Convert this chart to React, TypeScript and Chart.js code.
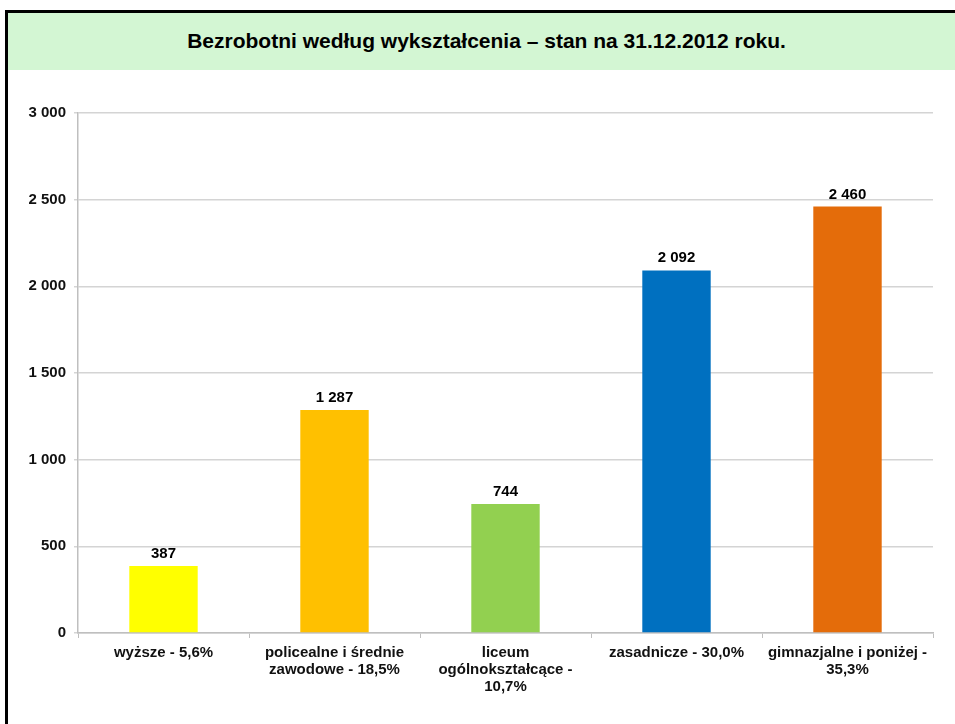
import React, { useEffect, useRef } from "react";
import { Chart, registerables } from "chart.js";

Chart.register(...registerables);

const titleText = "Bezrobotni według wykształcenia – stan na 31.12.2012 roku.";
const categories: string[][] = [
  ["wyższe - 5,6%"],
  ["policealne i średnie", "zawodowe - 18,5%"],
  ["liceum", "ogólnokształcące -", "10,7%"],
  ["zasadnicze - 30,0%"],
  ["gimnazjalne i poniżej -", "35,3%"],
];
const values = [387, 1287, 744, 2092, 2460];
const barColors = ["#FFFF00", "#FFC000", "#92D050", "#0070C0", "#E46C0A"];
const yMin = 0;
const yMax = 3000;
const yStep = 500;

const FONT = '"Liberation Sans", Arial, sans-serif';

const fmt = (v: number) => String(Math.round(v)).replace(/\B(?=(\d{3})+(?!\d))/g, " ");

const valueLabels = {
  id: "valueLabels",
  afterDatasetsDraw(chart: any) {
    const ctx = chart.ctx;
    const meta = chart.getDatasetMeta(0);
    ctx.save();
    ctx.font = `bold 15px ${FONT}`;
    ctx.fillStyle = "#000";
    ctx.textAlign = "center";
    ctx.textBaseline = "alphabetic";
    meta.data.forEach((el: any, i: number) => {
      ctx.fillText(fmt(values[i]), el.x, el.y - 8);
    });
    ctx.restore();
  },
};

export default function App() {
  const ref = useRef<HTMLCanvasElement | null>(null);
  useEffect(() => {
    if (!ref.current) return;
    const chart = new Chart(ref.current, {
      type: "bar",
      data: {
        labels: categories,
        datasets: [
          {
            data: values,
            backgroundColor: barColors,
            borderWidth: 0,
            barPercentage: 0.4,
            categoryPercentage: 1,
          },
        ],
      },
      options: {
        animation: false,
        responsive: false,
        devicePixelRatio: 1,
        layout: { padding: { top: 43, right: 22, left: 0, bottom: 0 } },
        plugins: {
          legend: { display: false },
          tooltip: { enabled: false },
          title: { display: false },
        },
        scales: {
          x: {
            grid: {
              offset: true,
              drawOnChartArea: false,
              drawTicks: true,
              tickLength: 5,
              color: "#bfbfbf",
            },
            border: { color: "#bfbfbf", width: 1.5 },
            ticks: {
              font: { family: FONT, size: 15, weight: "bold", lineHeight: 1.15 },
              color: "#111",
              maxRotation: 0,
              autoSkip: false,
              padding: 6,
            },
            afterFit(scale: any) {
              scale.height = 91;
            },
          },
          y: {
            min: yMin,
            max: yMax,
            ticks: {
              stepSize: yStep,
              font: { family: FONT, size: 15, weight: "bold" },
              color: "#111",
              padding: 8,
              callback: (v: any) => fmt(Number(v)),
            },
            grid: { color: "#d4d4d4", lineWidth: 1.5, tickLength: 4 },
            border: { color: "#bfbfbf", width: 1.5 },
            afterFit(scale: any) {
              scale.width = 70;
            },
          },
        },
      },
      plugins: [valueLabels],
    });
    return () => chart.destroy();
  }, []);

  return (
    <div style={{ position: "fixed", left: 0, top: 0, width: 955, height: 724, overflow: "hidden", background: "#fff" }}>
      <div
        style={{
          position: "absolute",
          left: 5,
          top: 10,
          width: 957,
          height: 740,
          border: "3px solid #000",
          boxSizing: "content-box",
          background: "#fff",
        }}
      >
        <div
          style={{
            height: 57,
            background: "#D3F6D3",
            display: "flex",
            alignItems: "center",
            justifyContent: "center",
            fontFamily: FONT,
            fontWeight: "bold",
            fontSize: 21,
            color: "#000",
            paddingBottom: 2,
            boxSizing: "border-box",
          }}
        >
          {titleText}
        </div>
        <canvas ref={ref} width={947} height={654} style={{ display: "block", width: 947, height: 654 }} />
      </div>
    </div>
  );
}
